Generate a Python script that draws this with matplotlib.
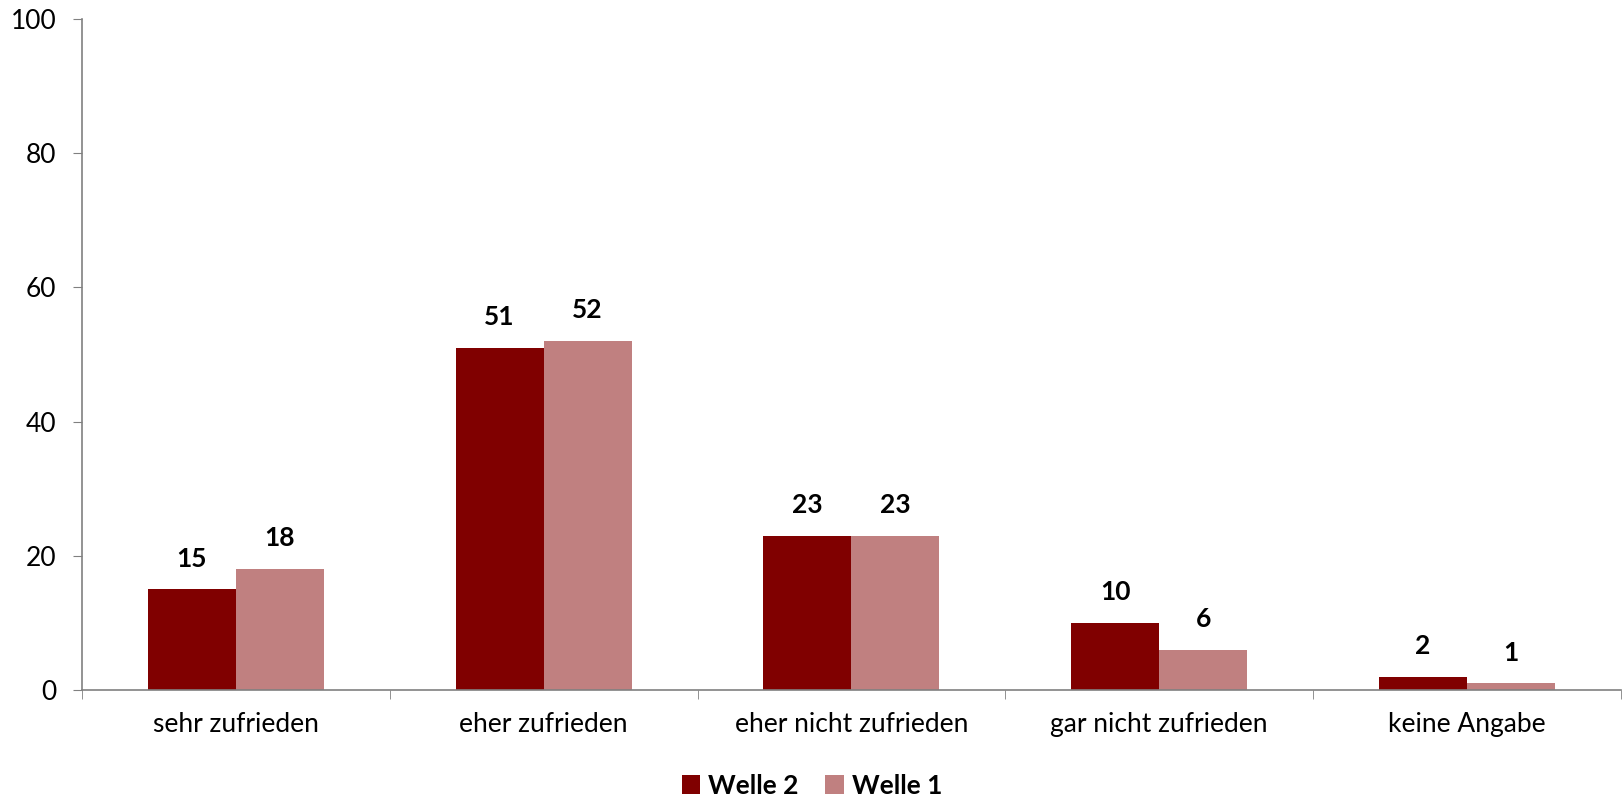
import matplotlib.pyplot as plt
import numpy as np

categories = ["sehr zufrieden", "eher zufrieden", "eher nicht zufrieden",
              "gar nicht zufrieden", "keine Angabe"]
welle2 = [15, 51, 23, 10, 2]
welle1 = [18, 52, 23, 6, 1]
yticks = [0, 20, 40, 60, 80, 100]

plt.rcParams['font.family'] = ['Lato', 'DejaVu Sans']

fig = plt.figure(figsize=(16.24, 7.99), dpi=100)
ax = fig.add_axes([0.0505, 0.1364, 0.9475, 0.8398])

x = np.arange(len(categories))
w = 0.286
b2 = ax.bar(x - w / 2, welle2, w, color="#800000", label="Welle 2")
b1 = ax.bar(x + w / 2, welle1, w, color="#C08080", label="Welle 1")

for bars, vals in ((b2, welle2), (b1, welle1)):
    for r, v in zip(bars, vals):
        ax.text(r.get_x() + r.get_width() / 2, v + 2.8, str(v),
                ha="center", va="bottom", fontsize=19, fontweight="bold")

ax.set_xlim(-0.5, len(categories) - 0.5)
ax.set_ylim(0, 100)
ax.set_yticks(yticks)
ax.set_xticks(x)
ax.set_xticklabels(categories)
ax.set_xticks(np.arange(-0.5, len(categories)), minor=True)
ax.tick_params(axis="x", which="major", length=0, pad=16, labelsize=19)
ax.tick_params(axis="x", which="minor", length=6.5, color="#808080", direction="out")
ax.tick_params(axis="y", length=6.5, color="#808080", labelsize=19, pad=12)

for s in ("top", "right"):
    ax.spines[s].set_visible(False)
for s in ("left", "bottom"):
    ax.spines[s].set_color("#808080")
    ax.spines[s].set_linewidth(1.2)

leg = fig.legend(loc="lower center", bbox_to_anchor=(0.5, -0.028), ncol=2,
                 frameon=False, prop={"weight": "bold", "size": 19},
                 handlelength=0.7, handleheight=0.7, handletextpad=0.3,
                 columnspacing=1.0)

fig.savefig("out.png", dpi=100)
